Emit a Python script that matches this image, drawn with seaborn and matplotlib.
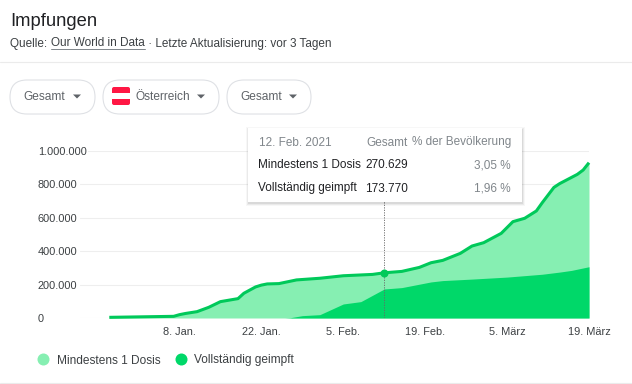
import pandas as pd
import seaborn as sns
import matplotlib
matplotlib.use("Agg")
import matplotlib.pyplot as plt
import matplotlib.dates as mdates
from matplotlib.lines import Line2D
from matplotlib.patches import FancyBboxPatch, Rectangle, Polygon

first_dates = ["2020-12-27","2021-01-07","2021-01-08","2021-01-09","2021-01-11","2021-01-13","2021-01-15",
               "2021-01-18","2021-01-19","2021-01-21","2021-01-22","2021-01-23","2021-01-25","2021-01-28",
               "2021-02-01","2021-02-05","2021-02-10","2021-02-12","2021-02-15","2021-02-18","2021-02-20",
               "2021-02-22","2021-02-25","2021-02-27","2021-03-01","2021-03-04","2021-03-06","2021-03-08",
               "2021-03-10","2021-03-11","2021-03-13","2021-03-14","2021-03-17","2021-03-18","2021-03-19"]
first_dose = [4000,10000,20000,27000,38000,64000,98000,
              116000,148000,186000,197000,204000,206000,228000,
              238000,253000,261000,270629,279000,303000,331000,
              345000,387000,431000,451000,507000,577000,597000,
              641000,690000,782000,805000,860000,886000,930000]
full_dates = ["2020-12-27","2021-01-26","2021-01-27","2021-01-29","2021-02-01","2021-02-05","2021-02-08",
              "2021-02-12","2021-02-15","2021-02-20","2021-02-22","2021-02-27","2021-03-05","2021-03-11",
              "2021-03-14","2021-03-16","2021-03-19"]
full_dose = [0,0,2000,14000,20000,84000,98000,
             173770,182000,216000,224000,233000,245000,262000,
             275000,285000,307000]
y_ticks = [0,200000,400000,600000,800000,1000000]
y_labels = ["0","200.000","400.000","600.000","800.000","1.000.000"]
x_ticks = ["2021-01-08","2021-01-22","2021-02-05","2021-02-19","2021-03-05","2021-03-19"]
x_labels = ["8. Jan.","22. Jan.","5. Feb.","19. Feb.","5. März","19. März"]
hover_date = "2021-02-12"
hover_value = 270629
series_names = ["Mindestens 1 Dosis","Vollständig geimpft"]

LIGHT, DARK, LINE = "#86EFB2", "#00D869", "#00C95A"
W, H = 632, 384
sns.set_theme(style="white")
plt.rcParams["font.family"] = ["Liberation Sans", "DejaVu Sans"]
px = 72 / 100
fig = plt.figure(figsize=(W/100, H/100), dpi=100, facecolor="white")

L, R, T, B = 80, 589, 151, 318
ax = fig.add_axes([L/W, 1-B/H, (R-L)/W, (B-T)/H])
first = pd.DataFrame({"date": pd.to_datetime(first_dates), "value": first_dose})
full = pd.DataFrame({"date": pd.to_datetime(full_dates), "value": full_dose})

ax.fill_between(first["date"], first["value"], color=LIGHT, lw=0, zorder=2)
ax.fill_between(full["date"], full["value"], color=DARK, lw=0, zorder=3)
sns.lineplot(data=first, x="date", y="value", color=LINE, lw=2.2, ax=ax, zorder=4, errorbar=None,
             solid_joinstyle="round", solid_capstyle="butt", clip_on=False)

end = pd.Timestamp("2021-03-19")
ax.set_xlim(end - pd.Timedelta(days=(R-L)/5.85), end)
ax.set_ylim(0, 1000000)
ax.set_xlabel(""); ax.set_ylabel("")
ax.set_yticks(y_ticks)
ax.set_yticklabels(y_labels, ha="left")
ax.set_xticks(mdates.date2num(pd.to_datetime(x_ticks)))
ax.set_xticklabels(x_labels)
ax.tick_params(axis="y", length=0, pad=42*px, labelsize=7.9, labelcolor="#3c4043")
ax.tick_params(axis="x", length=5*px, width=0.7, color="#dadce0", pad=4*px, labelsize=7.9, labelcolor="#3c4043")
for lab in ax.get_yticklabels():
    lab.set_bbox(dict(fc="white", ec="none", pad=1))
ax.grid(axis="y", color="#eeeeee", lw=0.8, zorder=0)
ax.grid(axis="x", visible=False)
for s in ax.spines.values():
    s.set_visible(False)

hx = pd.Timestamp(hover_date)
ax.plot([hx, hx], [0, 700000], color="#666666", lw=0.6, ls=(0, (1.5, 1.5)), zorder=5)
ax.plot([hx], [hover_value], "o", color=LINE, ms=8*px, mew=0, zorder=6)

handles = [Line2D([], [], ls="", marker="o", ms=12*px, mew=0, color=LIGHT),
           Line2D([], [], ls="", marker="o", ms=12*px, mew=0, color=DARK)]
ov = fig.add_axes([0, 0, 1, 1], zorder=10)
ov.set_xlim(0, W); ov.set_ylim(H, 0); ov.axis("off"); ov.patch.set_alpha(0)
ov.legend(handles, series_names, loc="center left", bbox_to_anchor=(37, 360.5), bbox_transform=ov.transData,
          ncol=2, frameon=False, fontsize=8.6, handletextpad=0.67, columnspacing=1.17, labelcolor="#3c4043",
          borderpad=0, borderaxespad=0, handlelength=1.0)

TXT, GREY = "#3c4043", "#80868b"
ov.text(10, 21.5, "Impfungen", fontsize=13.2, color="#202124", va="center")
ov.text(10, 43.5, "Quelle: ", fontsize=8.5, color=TXT, va="center")
ov.text(51, 43.5, "Our World in Data", fontsize=8.5, color=TXT, va="center")
ov.plot([51, 145], [49, 49], color="#80868b", lw=0.7)
ov.text(145, 43.5, " · Letzte Aktualisierung: vor 3 Tagen", fontsize=8.5, color=TXT, va="center")
ov.plot([0, W], [62, 62], color="#ebebeb", lw=0.8)
ov.plot([0, W], [383.3, 383.3], color="#ebebeb", lw=0.8)

def pill(x0, x1, label, tx):
    ov.add_patch(FancyBboxPatch((x0+17, 80+17), x1-x0-34, 0.01, boxstyle="round,pad=17,rounding_size=17",
                                fc="white", ec="#dfe1e5", lw=0.8))
    ov.text(tx, 97, label, fontsize=8.6, color="#5f6368", va="center")
    ax_ = x1-18
    ov.add_patch(Polygon([(ax_-4, 94.5), (ax_+4, 94.5), (ax_, 98.5)], fc="#5f6368", ec="none"))
pill(10, 95, "Gesamt", 23)
pill(103, 219, "Österreich", 135)
pill(227, 311, "Gesamt", 240)
ov.add_patch(FancyBboxPatch((113, 88), 16, 16, boxstyle="round,pad=1,rounding_size=2", fc="#ff1744", ec="none"))
ov.add_patch(Rectangle((112, 93), 18, 6, fc="white", ec="none"))

for i, a in enumerate([0.03, 0.05, 0.07]):
    d = 3 - i
    ov.add_patch(Rectangle((248-d+1, 128-d+2), 275+2*d-2, 74+2*d-1, fc="black", alpha=a, ec="none", zorder=1))
ov.add_patch(Rectangle((248, 128), 274, 74, fc="white", ec="none", zorder=2))
tk = dict(va="center", zorder=3, fontsize=8.5)
ov.text(259, 142.5, "12. Feb. 2021", color=GREY, **tk)
ov.text(366, 142.5, "Gesamt", color=GREY, **tk)
ov.text(511, 142.5, "% der Bevölkerung", color=GREY, ha="right", **tk)
ov.text(258, 165.5, "Mindestens 1 Dosis", color="#202124", **tk)
ov.text(365, 165.5, "270.629", color="#202124", **tk)
ov.text(511, 165.5, "3,05 %", color=GREY, ha="right", **tk)
ov.text(258, 188.5, "Vollständig geimpft", color="#202124", **tk)
ov.text(365, 188.5, "173.770", color="#202124", **tk)
ov.text(511, 188.5, "1,96 %", color=GREY, ha="right", **tk)

fig.savefig("out.png", dpi=100)
